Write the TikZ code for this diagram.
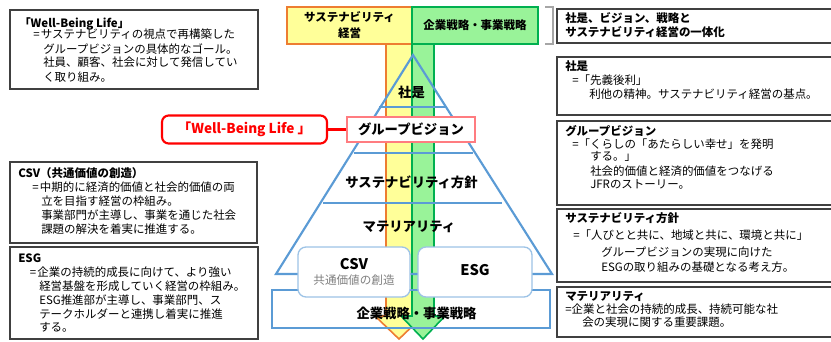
\documentclass[tikz,border=0pt]{standalone}
\usepackage{fontspec}
\setmainfont{Noto Sans CJK JP}
\definecolor{yfill}{HTML}{FFFF99}
\definecolor{oline}{HTML}{ED7D31}
\definecolor{gfill}{HTML}{99F399}
\definecolor{gline}{HTML}{00B050}
\definecolor{pblue}{HTML}{5B9BD5}
\definecolor{lblue}{HTML}{9DC3E6}
\definecolor{gvline}{HTML}{FF7C80}
\definecolor{wred}{HTML}{FF0000}
\definecolor{boxgray}{HTML}{404040}
\definecolor{brgray}{HTML}{A6A6A6}
\definecolor{subgray}{HTML}{7F7F7F}
\newcommand\T[5][tx]{\node[#1] (#2) at (#3,#4) {#5};}
\tikzset{
  bx/.style={draw=boxgray, line width=1pt},
  tx/.style={anchor=base west, inner sep=0pt, font=\fontsize{8.6}{10}\selectfont},
  tb/.style={anchor=base west, inner sep=0pt, font=\fontsize{8.6}{10}\selectfont\bfseries},
  pl/.style={draw=pblue, line width=1.6pt},
  ptx/.style={inner sep=0pt, font=\fontsize{10}{12}\selectfont\bfseries},
  ostripe/.style={fill=yfill, draw=oline, line width=1.2pt, line join=miter},
  gstripe/.style={fill=gfill, draw=gline, line width=1.2pt, line join=miter},
  rbox/.style={draw=lblue, line width=1pt, fill=white, rounded corners=6pt},
}
\begin{document}
\begin{tikzpicture}[x=0.75pt,y=-0.75pt]
\useasboundingbox (0,0) rectangle (831,342);
% stripes with arrow heads
\draw[ostripe] (386,44) -- (386,316) -- (375,316) -- (399,339) -- (423,316) -- (412,316) -- (412,44) -- cycle;
\draw[gstripe] (412,44) -- (412,316) -- (401,316) -- (423,339) -- (445,316) -- (434,316) -- (434,44) -- cycle;
% pyramid
\draw[pl, line join=miter] (276,274) -- (413,55) -- (552,274) -- cycle;
\draw[pl] (379,107) -- (446,107);
\draw[pl] (354,153) -- (473,153);
\draw[pl] (323,203) -- (502,203);
% bottom rectangle
\draw[draw=pblue, line width=2.2pt] (272,290) rectangle (550,328);
% CSV / ESG boxes
\draw[rbox] (298,247) rectangle (410,297);
\draw[rbox] (418,247) rectangle (532,297);
% header boxes
\draw[fill=yfill, draw=oline, line width=1.4pt] (287,7) rectangle (412,44);
\draw[fill=gfill, draw=gline, line width=1.4pt] (412,7) rectangle (538,44);
\node[align=center, inner sep=0pt, font=\fontsize{8.6}{11.7}\selectfont\bfseries] (hy) at (349.5,25) {サステナビリティ\\経営};
\node[inner sep=0pt, font=\fontsize{8.6}{10}\selectfont\bfseries] (hg) at (475,25) {企業戦略・事業戦略};
% pyramid labels
\node[ptx] (p1) at (411.5,92) {社是};
\node[draw=gvline, line width=1pt, fill=white, minimum width=96pt, minimum height=18.75pt, inner sep=0pt, font=\fontsize{10}{12}\selectfont\bfseries] (gv) at (411,129.5) {グループビジョン};
\node[ptx] (p3) at (411.5,182.5) {サステナビリティ方針};
\node[ptx] (p4) at (409,226.5) {マテリアリティ};
\node[inner sep=0pt, font=\fontsize{11}{12}\selectfont\bfseries] (csv) at (354,264) {CSV};
\node[inner sep=0pt, text=subgray, font=\fontsize{8.7}{10}\selectfont] (csvs) at (354,280) {共通価値の創造};
\node[inner sep=0pt, font=\fontsize{11}{12}\selectfont\bfseries] (esg) at (475,270) {ESG};
\node[ptx] (p5) at (416.5,313) {企業戦略・事業戦略};
% red box
\node[draw=wred, line width=1.6pt, rounded corners=5pt, fill=white, minimum width=123.75pt, minimum height=21pt, inner sep=0pt, text=wred, font=\fontsize{10.2}{12}\selectfont\bfseries] (wbl) at (244.5,129.5) {「Well-Being Life 」};
\draw[wred, line width=1.6pt] (wbl.east) -- (gv.west);
% left boxes
\draw[bx] (10,10) rectangle (258,89);
\draw[bx] (10,162) rectangle (257,243);
\draw[bx] (10,247) rectangle (258,339);
\T[tb]{b1t}{19}{27.5}{「Well-Being Life」}
\T{b1a}{33}{38.7}{=\hspace{1pt}サステナビリティの視点で再構築した}
\T{b1b}{43}{53.7}{グループビジョンの具体的なゴール。}
\T{b1c}{43}{67}{社員、顧客、社会に対して発信してい}
\T{b1d}{43}{81.7}{く取り組み。}
\T[tb]{b2t}{18}{177.5}{CSV（共通価値の創造）}
\T{b2a}{32}{191.4}{=\hspace{1pt}中期的に経済的価値と社会的価値の両}
\T{b2b}{41}{205.4}{立を目指す経営の枠組み。}
\T{b2c}{41}{219.4}{事業部門が主導し、事業を通じた社会}
\T{b2d}{41}{233.4}{課題の解決を着実に推進する。}
\T[tb]{b3t}{18}{262}{ESG}
\T{b3a}{29.5}{276.4}{=\hspace{1pt}企業の持続的成長に向けて、より強い}
\T{b3b}{39}{290.4}{経営基盤を形成していく経営の枠組み。}
\T{b3c}{39}{304.4}{ESG推進部が主導し、事業部門、ス}
\T{b3d}{39}{318.4}{テークホルダーと連携し着実に推進}
\T{b3e}{39}{331.4}{する。}
% right bracket and boxes
\draw[brgray, line width=1pt] (545,7) -- (553,7) -- (553,44) -- (545,44);
\draw[bx] (840,9) -- (557,9) -- (557,43) -- (840,43);
\draw[bx] (840,57) -- (557,57) -- (557,115) -- (840,115);
\draw[bx] (840,121) -- (557,121) -- (557,205) -- (840,205);
\draw[bx] (840,209) -- (557,209) -- (557,282) -- (840,282);
\draw[bx] (840,287) -- (557,287) -- (557,337) -- (840,337);
\T[tb]{r0a}{565}{23}{社是、ビジョン、戦略と}
\T[tb]{r0b}{565}{36.5}{サステナビリティ経営の一体化}
\T[tb]{r1t}{565}{70.4}{社是}
\T{r1a}{572}{84.4}{=「先義後利」}
\T{r1b}{589}{98.4}{利他の精神。サステナビリティ経営の基点。}
\T[tb]{r2t}{565}{136}{グループビジョン}
\T{r2a}{572}{148.7}{=「くらしの「あたらしい幸せ」を発明}
\T{r2b}{590}{161}{する。」}
\T{r2c}{590}{175.4}{社会的価値と経済的価値をつなげる}
\T{r2d}{590}{188.7}{JFRのストーリー。}
\T[tb]{r3t}{565}{222.5}{サステナビリティ方針}
\T{r3a}{573}{239.4}{=「人びとと共に、地域と共に、環境と共に」}
\T{r3b}{601}{256}{グループビジョンの実現に向けた}
\T{r3c}{601}{271}{ESGの取り組みの基礎となる考え方。}
\T[tb]{r4t}{565}{300.4}{マテリアリティ}
\T{r4a}{565}{313.7}{=企業と社会の持続的成長、持続可能な社}
\T{r4b}{582}{326}{会の実現に関する重要課題。}
\end{tikzpicture}
\end{document}
